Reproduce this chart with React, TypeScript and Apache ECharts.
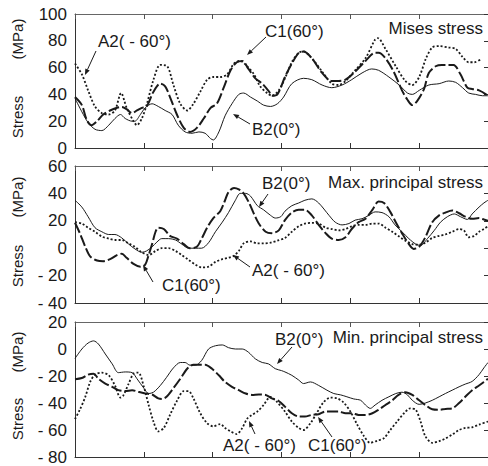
import React, { useEffect, useRef } from "react";
import * as echarts from "echarts";

// x in tick units (6 intervals), y in MPa
const xTicks = [0, 1, 2, 3, 4, 5, 6];

const misesA2: [number, number][] = [[0,63],[0.1,55],[0.19,43],[0.29,31],[0.39,26],[0.49,25],[0.58,28],[0.67,41],[0.75,30],[0.85,20],[0.9,17],[0.97,22],[1.04,32],[1.14,51],[1.24,62],[1.34,61],[1.43,47],[1.53,33],[1.63,28],[1.72,33],[1.82,42],[1.92,51],[2.01,53],[2.11,53],[2.21,55],[2.31,63],[2.4,65],[2.5,61],[2.6,55],[2.69,46],[2.79,41],[2.86,39],[2.96,43],[3.05,52],[3.15,64],[3.25,71],[3.32,72],[3.44,67],[3.59,57],[3.73,48],[3.83,47],[3.93,50],[4.07,58],[4.22,67],[4.36,81],[4.4,82],[4.51,74],[4.66,61],[4.8,50],[4.9,47],[5.0,53],[5.1,67],[5.19,75],[5.29,76],[5.43,75],[5.53,74],[5.63,68],[5.72,64],[5.8,64],[5.89,66]];
const misesC1: [number, number][] = [[0,38],[0.1,32],[0.17,21],[0.24,17],[0.32,20],[0.41,25],[0.51,28],[0.61,30],[0.68,30.6],[0.75,29],[0.83,26],[0.9,28],[0.97,30],[1.04,31],[1.14,42],[1.24,48],[1.31,46],[1.38,38],[1.48,25],[1.58,15],[1.67,12],[1.77,15],[1.87,22],[1.97,30],[2.06,33],[2.16,45],[2.26,58],[2.35,64],[2.43,65],[2.52,59],[2.62,52],[2.72,48],[2.82,42],[2.86,39],[2.94,40],[3.05,53],[3.15,63],[3.25,71],[3.32,72],[3.44,67],[3.59,56],[3.73,50],[3.83,50],[3.93,51],[4.07,57],[4.22,65],[4.36,71],[4.41,71],[4.51,67],[4.63,57],[4.75,43],[4.83,36],[4.9,32],[4.97,35],[5.07,44],[5.14,56],[5.24,61],[5.33,62],[5.43,62],[5.5,62],[5.6,55],[5.7,45],[5.77,44],[5.87,43],[5.97,40],[6,38]];
const misesB2: [number, number][] = [[0,37],[0.1,27],[0.19,19],[0.29,14],[0.39,13],[0.49,17],[0.58,22],[0.66,25],[0.73,22],[0.83,20],[0.87,20],[0.95,25],[1.02,30],[1.12,33],[1.21,31],[1.31,28],[1.41,25],[1.5,17],[1.6,12],[1.7,11],[1.8,12],[1.89,11],[1.97,7],[2.01,6],[2.09,12],[2.18,24],[2.28,33],[2.38,40],[2.45,41],[2.55,38],[2.65,35],[2.74,32],[2.84,31],[2.94,33],[3.03,38],[3.15,48],[3.32,52],[3.44,51],[3.59,47],[3.73,45],[3.88,47],[4.02,51],[4.17,56],[4.31,59],[4.41,58],[4.56,53],[4.71,47],[4.83,41],[4.9,40],[5.0,43],[5.14,47],[5.29,48],[5.43,50],[5.53,49],[5.63,45],[5.72,41],[5.82,40],[5.92,39],[6,39]];

const maxB2: [number, number][] = [[0,35],[0.1,30],[0.19,23],[0.29,15],[0.39,12],[0.49,10],[0.58,10],[0.68,7.5],[0.78,3],[0.87,-0.5],[0.97,-3],[1.04,-2],[1.12,1],[1.19,4.5],[1.26,7],[1.36,7],[1.46,6],[1.55,3],[1.65,0],[1.75,0],[1.84,0],[1.94,4],[2.04,12],[2.14,19],[2.23,26],[2.33,35],[2.4,40],[2.48,40],[2.55,38],[2.65,31],[2.74,28],[2.84,24],[2.91,22],[2.99,23],[3.05,27],[3.15,31],[3.25,33],[3.34,35],[3.44,36],[3.54,33],[3.69,24],[3.78,19],[3.88,17],[3.98,18],[4.07,20.5],[4.17,21.5],[4.27,24],[4.36,26.5],[4.46,26],[4.56,23],[4.65,17],[4.75,12],[4.85,7],[4.95,3],[5.02,2],[5.12,7],[5.22,13],[5.31,19],[5.41,23],[5.51,25],[5.6,23],[5.7,21],[5.77,25],[5.87,30],[5.94,33],[6,35]];
const maxC1: [number, number][] = [[0,18.6],[0.07,11],[0.15,1],[0.22,-6],[0.32,-9],[0.41,-9.5],[0.51,-8],[0.61,-5],[0.68,-4],[0.75,-7],[0.85,-11.5],[0.95,-13.5],[1.02,-12],[1.07,-5],[1.12,3],[1.17,12],[1.21,15],[1.29,14],[1.38,9],[1.48,7],[1.58,3],[1.67,0],[1.77,1],[1.84,7],[1.92,15],[2.01,22],[2.11,27],[2.18,35],[2.23,41],[2.31,44],[2.38,43],[2.45,40],[2.53,33],[2.6,25],[2.67,18],[2.77,12],[2.86,11],[2.96,13],[3.05,20.5],[3.15,26],[3.25,28],[3.34,28],[3.44,24],[3.54,17],[3.64,11],[3.73,7],[3.83,6],[3.93,8],[4.02,14],[4.12,19],[4.22,21.5],[4.32,28],[4.41,34],[4.49,33],[4.58,26.5],[4.66,19],[4.75,11],[4.85,3],[4.92,-0.5],[5.0,1],[5.09,8],[5.19,19],[5.29,24],[5.38,26],[5.48,27.5],[5.58,25.5],[5.67,23],[5.77,21.5],[5.87,22],[5.94,21],[6,20]];
const maxA2: [number, number][] = [[0,19],[0.1,18],[0.19,15],[0.29,12],[0.39,8.5],[0.49,7],[0.58,6],[0.68,6],[0.78,3.5],[0.87,1],[0.97,-3],[1.07,-5],[1.17,-2],[1.26,0],[1.36,0],[1.46,-2],[1.55,-5],[1.65,-8.5],[1.75,-12],[1.84,-14],[1.94,-13.5],[2.04,-10],[2.14,-8],[2.23,-7],[2.31,-5.5],[2.38,-2],[2.45,3.5],[2.55,5],[2.65,3.5],[2.74,3.5],[2.84,4],[2.94,5.5],[3.05,7.5],[3.15,12],[3.25,16],[3.34,18],[3.44,18.5],[3.54,18],[3.64,15],[3.73,14],[3.83,13],[3.93,14],[4.02,16],[4.12,17],[4.22,17],[4.32,18],[4.41,18],[4.51,15],[4.61,12],[4.71,8.5],[4.8,5.5],[4.9,3],[5.0,2.5],[5.09,4],[5.19,7.5],[5.29,9],[5.38,10],[5.48,12],[5.58,14],[5.65,13],[5.72,8],[5.8,9],[5.87,12],[5.94,14],[6,16]];

const minB2: [number, number][] = [[0,-7],[0.1,0],[0.19,4.4],[0.27,6],[0.34,3.7],[0.44,-3.7],[0.54,-11],[0.63,-17.5],[0.73,-17],[0.83,-17.5],[0.9,-22],[1.0,-29],[1.07,-33],[1.14,-32],[1.24,-27],[1.33,-21],[1.43,-14],[1.53,-10],[1.6,-10],[1.67,-12],[1.75,-12],[1.84,-8.5],[1.94,0],[2.04,2.4],[2.14,3],[2.23,1],[2.33,0],[2.43,0],[2.52,-2.4],[2.62,-7.3],[2.72,-10],[2.81,-11],[2.91,-14.6],[3.0,-16],[3.05,-17],[3.15,-19.5],[3.25,-23],[3.32,-25.6],[3.42,-24.4],[3.54,-27],[3.66,-30.5],[3.76,-33],[3.86,-34],[3.95,-35.4],[4.05,-37],[4.15,-38],[4.22,-41.5],[4.29,-44],[4.36,-41.5],[4.46,-38],[4.56,-35.4],[4.66,-33],[4.75,-32],[4.83,-34],[4.9,-38],[5.0,-41],[5.09,-40],[5.19,-38],[5.29,-35.4],[5.38,-33],[5.48,-30.5],[5.58,-28],[5.67,-26],[5.77,-24],[5.87,-19],[5.94,-14],[6,-10]];
const minC1: [number, number][] = [[0,-22.4],[0.1,-21.5],[0.19,-19],[0.27,-18.3],[0.34,-22],[0.44,-25.6],[0.54,-28],[0.63,-30.5],[0.73,-31.2],[0.83,-30.5],[0.92,-31.7],[1.02,-33],[1.12,-33.7],[1.21,-36.6],[1.26,-37],[1.33,-35.4],[1.43,-29],[1.53,-22],[1.63,-14.6],[1.72,-11.7],[1.82,-11.7],[1.89,-11.7],[1.99,-14.6],[2.09,-19.5],[2.18,-24.4],[2.28,-28],[2.38,-30.5],[2.48,-33],[2.57,-34],[2.67,-33.7],[2.77,-34],[2.86,-36.6],[2.96,-38.5],[3.05,-42.7],[3.15,-47.6],[3.25,-50],[3.34,-50],[3.44,-48.8],[3.54,-48.3],[3.64,-46.3],[3.73,-46.3],[3.83,-46.3],[3.93,-47.6],[4.02,-47.6],[4.12,-48.8],[4.22,-48.8],[4.32,-47.6],[4.41,-45],[4.51,-41.5],[4.61,-38],[4.7,-34],[4.8,-32],[4.9,-34],[5.0,-38],[5.09,-41.5],[5.19,-44.6],[5.29,-45],[5.38,-44.4],[5.48,-44],[5.58,-40],[5.67,-35.4],[5.77,-30.5],[5.87,-27],[5.94,-24.4],[6,-22]];
const minA2: [number, number][] = [[0,-52],[0.07,-45],[0.15,-35.4],[0.22,-24.4],[0.29,-19],[0.39,-17.5],[0.49,-19.5],[0.58,-27],[0.66,-36],[0.7,-34.6],[0.78,-25.6],[0.85,-18.3],[0.92,-17.5],[1.0,-28],[1.07,-41.5],[1.14,-53.7],[1.21,-61],[1.29,-58.5],[1.38,-48.8],[1.48,-38.5],[1.58,-31.2],[1.65,-31.2],[1.72,-36.6],[1.82,-47.6],[1.92,-55],[2.01,-57.3],[2.11,-55.6],[2.18,-58.5],[2.26,-61],[2.35,-63],[2.43,-58.5],[2.5,-51.7],[2.57,-48.8],[2.65,-46.3],[2.74,-41.5],[2.84,-35.4],[2.94,-39.5],[3.05,-46.3],[3.15,-53.7],[3.25,-58.5],[3.32,-60],[3.42,-55],[3.51,-47.6],[3.61,-39.5],[3.71,-36],[3.81,-36.6],[3.9,-39.5],[4.0,-46.3],[4.1,-56],[4.2,-64.6],[4.29,-69.5],[4.39,-68],[4.49,-66],[4.58,-60],[4.68,-53.7],[4.78,-47.6],[4.87,-44],[4.95,-45],[5.02,-53.7],[5.09,-64.6],[5.19,-69.5],[5.29,-68.3],[5.38,-66.3],[5.48,-63.4],[5.58,-60],[5.67,-58.5],[5.77,-58],[5.87,-56],[6,-53.7]];

const panelRanges: [number, number][] = [[0, 100], [-40, 60], [-80, 20]];
const panelTitles = ["Mises stress", "Max. principal stress", "Min. principal stress"];
const yTitleWords = ["Stress", "(MPa)"];

const FONT = '"Liberation Sans", Arial, sans-serif';
const INK = "#1a1a1a";

function arrow(x1: number, y1: number, x2: number, y2: number) {
  const a = Math.atan2(y2 - y1, x2 - x1);
  const L = 6, W = 2.4;
  const c = Math.cos(a), s = Math.sin(a);
  const bx = x2 - L * c, by = y2 - L * s;
  return [
    { type: "line", shape: { x1, y1, x2: bx, y2: by }, style: { stroke: INK, lineWidth: 1 } },
    { type: "polygon", shape: { points: [[x2, y2], [bx + W * s, by - W * c], [bx - W * s, by + W * c]] }, style: { fill: INK } },
  ];
}
function label(text: string, x: number, y: number, align = "left") {
  return { type: "text", x, y, style: { text, fill: INK, font: `17px ${FONT}`, align, verticalAlign: "middle" } };
}
function vlabel(text: string, x: number, y: number) {
  return { type: "text", x, y, rotation: Math.PI / 2, style: { text, fill: INK, font: `15px ${FONT}`, align: "center", verticalAlign: "middle" } };
}

export default function App() {
  const ref = useRef<HTMLDivElement>(null);
  useEffect(() => {
    if (!ref.current) return;
    const chart = echarts.init(ref.current, null, { renderer: "svg" });
    const tops = [14, 166, 322];
    const heights = [134, 137, 135];
    const grids = tops.map((t, i) => ({ left: 75, right: -1, top: t, height: heights[i] }));
    const axisLine = { show: true, onZero: false, lineStyle: { color: "#333", width: 1 } };
    const xAxis: any[] = [];
    const yAxis: any[] = [];
    grids.forEach((_, i) => {
      const base = { type: "value", gridIndex: i, min: 0, max: 6, interval: 1, axisLabel: { show: false }, splitLine: { show: false }, axisLine };
      xAxis.push({ ...base, position: "bottom", axisTick: { show: true, inside: true, length: 5, lineStyle: { color: "#333" } } });
      xAxis.push({ ...base, position: "top", axisTick: { show: true, inside: true, length: 5, lineStyle: { color: "#555" } }, axisLine: { show: true, onZero: false, lineStyle: { color: "#666", width: 1 } } });
      const [mn, mx] = panelRanges[i];
      yAxis.push({
        type: "value", gridIndex: i, min: mn, max: mx, interval: 20, position: "left",
        axisLine, axisTick: { show: false }, splitLine: { show: false },
        axisLabel: { color: INK, fontSize: 17, fontFamily: FONT, margin: 8, formatter: (v: number) => (v < 0 ? "- " + Math.abs(v) : String(v)) },
      });
      yAxis.push({
        type: "value", gridIndex: i, min: mn, max: mx, interval: 20, position: "right",
        axisLine, axisTick: { show: true, inside: true, length: 4, lineStyle: { color: "#333" } },
        axisLabel: { show: false }, splitLine: { show: false },
      });
    });
    const sets = [
      [misesB2, misesC1, misesA2],
      [maxB2, maxC1, maxA2],
      [minB2, minC1, minA2],
    ];
    const styles = [
      { width: 1, type: "solid" },
      { width: 2, type: [11, 3] },
      { width: 1.8, type: [2, 2] },
    ];
    const names = ["B2(0°)", "C1(60°)", "A2(-60°)"];
    const series: any[] = [];
    sets.forEach((set, i) => {
      set.forEach((data, k) => {
        series.push({
          type: "line", name: names[k], xAxisIndex: 2 * i, yAxisIndex: 2 * i, data,
          showSymbol: false, symbol: "none", smooth: 0.3,
          lineStyle: { color: INK, width: styles[k].width, type: styles[k].type as any },
        });
      });
    });
    const graphic: any[] = [
      vlabel(yTitleWords[1], 17, 39), vlabel(yTitleWords[0], 17, 117),
      vlabel(yTitleWords[1], 17, 197), vlabel(yTitleWords[0], 17, 266),
      vlabel(yTitleWords[1], 17, 352), vlabel(yTitleWords[0], 17, 419),
      label("A2( - 60°)", 98, 41), ...arrow(96, 51, 85, 75),
      label("C1(60°)", 265, 31), ...arrow(266, 37, 247, 55),
      label(panelTitles[0], 483, 28, "right"),
      label("B2(0°)", 252, 129), ...arrow(250, 124, 233, 114),
      label("B2(0°)", 262, 183), ...arrow(268, 194, 259, 207),
      label(panelTitles[1], 483, 182, "right"),
      label("A2( - 60°)", 252, 270), ...arrow(250, 267, 233, 255),
      label("C1(60°)", 162, 285), ...arrow(153, 282, 143, 265),
      label("B2(0°)", 275, 339), ...arrow(292, 347, 277, 364),
      label(panelTitles[2], 483, 337, "right"),
      label("A2( - 60°)", 223, 445), ...arrow(255, 434, 249, 421),
      label("C1(60°)", 308, 445), ...arrow(332, 437, 318, 417),
    ];
    chart.setOption({
      animation: false,
      backgroundColor: "#fff",
      grid: grids,
      xAxis, yAxis, series, graphic,
    });
    return () => chart.dispose();
  }, []);
  return <div ref={ref} style={{ position: "absolute", left: 0, top: 0, width: 488, height: 466 }} />;
}
